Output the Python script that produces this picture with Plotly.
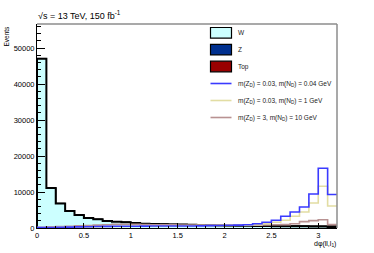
import numpy as np
import plotly.graph_objects as go

# ---- data (32 bins of width 0.1 from 0 to 3.2) ----
bin_edges = [round(0.1 * i, 1) for i in range(33)]

w_bkg = [47000, 11100, 6800, 4700, 3600, 2800, 2400, 1950, 1750, 1600,
         1400, 1200, 1100, 1050, 1000, 950, 900, 800, 750, 700,
         650, 600, 600, 550, 550, 500, 500, 500, 480, 450,
         420, 300]
z_bkg = [60, 30, 25, 20, 20, 20, 20, 20, 20, 20,
         20, 20, 20, 20, 20, 20, 20, 20, 20, 20,
         20, 20, 20, 20, 20, 20, 20, 20, 20, 20,
         20, 20]
top_bkg = [40, 20, 15, 15, 15, 15, 15, 15, 15, 15,
           15, 15, 15, 15, 15, 15, 15, 15, 15, 15,
           20, 20, 20, 20, 20, 30, 40, 50, 60, 80,
           120, 300]

sig_a = [100, 150, 200, 250, 300, 350, 400, 450, 500, 500,
         500, 520, 540, 540, 550, 550, 560, 600, 650, 700,
         750, 800, 900, 1200, 1600, 2150, 3250, 4450, 5850, 9450,
         16600, 9300]
sig_b = [80, 120, 160, 200, 250, 300, 350, 400, 420, 450,
         480, 500, 520, 540, 560, 600, 620, 650, 680, 700,
         720, 750, 800, 950, 1200, 1600, 2150, 3250, 4450, 6950,
         11600, 6100]
sig_c = [200, 300, 400, 500, 600, 700, 800, 900, 1000, 1050,
         1000, 950, 900, 880, 860, 850, 850, 850, 850, 850,
         820, 800, 800, 800, 850, 900, 950, 1200, 1780, 2050,
         2300, 950]

legend_labels = ["W", "Z", "Top",
                 "m(Z<sub>D</sub>) = 0.03, m(N<sub>D</sub>) = 0.04 GeV",
                 "m(Z<sub>D</sub>) = 0.03, m(N<sub>D</sub>) = 1 GeV",
                 "m(Z<sub>D</sub>) = 3, m(N<sub>D</sub>) = 10 GeV"]

x_ticks = [0, 0.5, 1, 1.5, 2, 2.5, 3]
x_ticklabels = ["0", "0.5", "1", "1.5", "2", "2.5", "3"]
y_ticks = [0, 10000, 20000, 30000, 40000, 50000]

# ---- styles ----
FONT = "Liberation Sans, Arial, Helvetica, sans-serif"
C_W, C_Z, C_TOP = "#ccffff", "#00308f", "#990000"
C_A, C_B, C_C = "#3a3aff", "#e2dda3", "#b89292"

W, H = 374, 253
L, R, T, B = 37, 37, 24, 25
PW, PH = W - L - R, H - T - B


def px_x(px):
    return (px - L) / PW


def px_y(py):
    return (H - B - py) / PH


def step(vals):
    xs = [bin_edges[0]] + list(bin_edges)
    ys = [0] + list(vals) + [vals[-1]]
    return xs, ys


fig = go.Figure()

w_arr = np.array(w_bkg, float)
wz_arr = w_arr + np.array(z_bkg, float)
wzt_arr = wz_arr + np.array(top_bkg, float)

# stacked background (top-most first, like ROOT THStack)
for vals, col in [(wzt_arr, C_TOP), (wz_arr, C_Z), (w_arr, C_W)]:
    xs, ys = step(list(vals))
    fig.add_trace(go.Scatter(x=xs, y=ys, mode="lines", line_shape="hv",
                             fill="tozeroy", fillcolor=col,
                             line=dict(color="black", width=2 if col == C_W else 1),
                             hoverinfo="skip", showlegend=False))

for vals, col in [(sig_c, C_C), (sig_b, C_B), (sig_a, C_A)]:
    xs, ys = step(vals)
    fig.add_trace(go.Scatter(x=xs, y=ys, mode="lines", line_shape="hv",
                             line=dict(color=col, width=1.6),
                             hoverinfo="skip", showlegend=False))

shapes = []
annotations = []

# frame top & right (grey)
shapes.append(dict(type="line", xref="paper", yref="paper", x0=0, x1=1, y0=1, y1=1,
                   line=dict(color="#8c8c8c", width=1.5)))
shapes.append(dict(type="line", xref="paper", yref="paper", x0=1, x1=1, y0=0, y1=1,
                   line=dict(color="#8c8c8c", width=1.5)))

# legend
row_y = [32.8, 49.6, 66.5, 83.5, 100.5, 117.5]
fills = [C_W, C_Z, C_TOP]
for i, lab in enumerate(legend_labels):
    yc = row_y[i]
    if i < 3:
        shapes.append(dict(type="rect", xref="paper", yref="paper",
                           x0=px_x(210.5), x1=px_x(231.5),
                           y0=px_y(yc + 5.3), y1=px_y(yc - 5.3),
                           fillcolor=fills[i], line=dict(color="black", width=1.2)))
    else:
        col = [C_A, C_B, C_C][i - 3]
        shapes.append(dict(type="line", xref="paper", yref="paper",
                           x0=px_x(210.5), x1=px_x(231.5),
                           y0=px_y(yc), y1=px_y(yc),
                           line=dict(color=col, width=1.6)))
    annotations.append(dict(text=lab, xref="paper", yref="paper",
                            x=px_x(235.5), y=px_y(yc), xanchor="left", yanchor="middle",
                            showarrow=False, font=dict(family=FONT, size=6.5, color="#222")))

# header text
annotations.append(dict(text="√s = 13 TeV, 150 fb<sup>-1</sup>", xref="paper", yref="paper",
                        x=px_x(36), y=px_y(15.5), xanchor="left", yanchor="middle",
                        showarrow=False, font=dict(family=FONT, size=9, color="black")))
# y title
annotations.append(dict(text="Events", xref="paper", yref="paper", textangle=-90,
                        x=px_x(5.5), y=px_y(23.5), xanchor="center", yanchor="top",
                        showarrow=False, font=dict(family=FONT, size=6.5, color="black")))
# x title
annotations.append(dict(text="dφ(ll,l<sub>1</sub>)", xref="paper", yref="paper",
                        x=px_x(338), y=px_y(244), xanchor="right", yanchor="middle",
                        showarrow=False, font=dict(family=FONT, size=7, color="black")))

fig.update_layout(
    width=W, height=H,
    margin=dict(l=L, r=R, t=T, b=B, pad=0),
    plot_bgcolor="white", paper_bgcolor="white",
    font=dict(family=FONT, size=7.5, color="black"),
    showlegend=False,
    shapes=shapes, annotations=annotations,
    xaxis=dict(range=[0, 3.2], showgrid=False, zeroline=False,
               showline=True, linecolor="black", linewidth=1,
               ticks="inside", ticklen=5, tickcolor="black", tickwidth=1,
               tickmode="array", tickvals=x_ticks, ticktext=x_ticklabels,
               minor=dict(ticks="inside", ticklen=2.5, dtick=0.1, tick0=0,
                          tickcolor="black", tickwidth=1),
               tickfont=dict(size=7.5), fixedrange=True),
    yaxis=dict(range=[0, PH / 3.6 * 1000], showgrid=False, zeroline=False,
               showline=True, linecolor="black", linewidth=1,
               ticks="inside", ticklen=8, tickcolor="black", tickwidth=1,
               tickmode="array", tickvals=y_ticks,
               ticktext=[str(v) for v in y_ticks],
               minor=dict(ticks="inside", ticklen=4, dtick=2000, tick0=0,
                          tickcolor="black", tickwidth=1),
               tickfont=dict(size=7.5), fixedrange=True),
)

fig.write_html("out.html", config={"displayModeBar": False},
               post_script="document.body.style.margin='0px';document.body.style.overflow='hidden';")
